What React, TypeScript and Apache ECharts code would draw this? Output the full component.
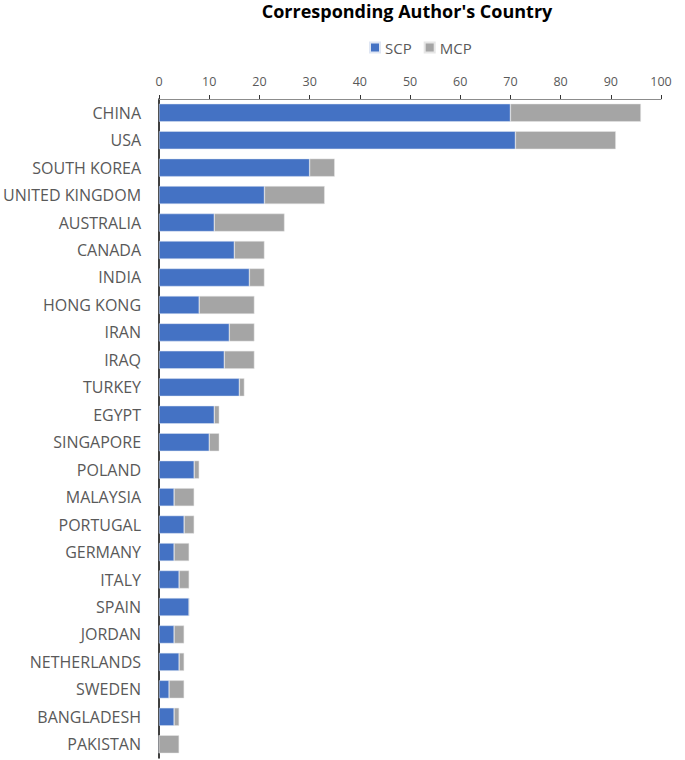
import React, { useEffect, useRef } from "react";
import * as echarts from "echarts";

const countries = [
  "CHINA", "USA", "SOUTH KOREA", "UNITED KINGDOM", "AUSTRALIA", "CANADA", "INDIA",
  "HONG KONG", "IRAN", "IRAQ", "TURKEY", "EGYPT", "SINGAPORE", "POLAND", "MALAYSIA",
  "PORTUGAL", "GERMANY", "ITALY", "SPAIN", "JORDAN", "NETHERLANDS", "SWEDEN",
  "BANGLADESH", "PAKISTAN",
];
const scp = [70, 71, 30, 21, 11, 15, 18, 8, 14, 13, 16, 11, 10, 7, 3, 5, 3, 4, 6, 3, 4, 2, 3, 0];
const mcp = [26, 20, 5, 12, 14, 6, 3, 11, 5, 6, 1, 1, 2, 1, 4, 2, 3, 2, 0, 2, 1, 3, 1, 4];
const xTicks = { min: 0, max: 100, interval: 10 };

const FONT = "'Open Sans', 'Liberation Sans', sans-serif";

export default function App() {
  const ref = useRef<HTMLDivElement>(null);
  useEffect(() => {
    if (!ref.current) return;
    const chart = echarts.init(ref.current, null, { renderer: "svg" });
    chart.setOption({
      animation: false,
      title: {
        text: "Corresponding Author's Country",
        left: 407,
        textAlign: "center",
        top: 1,
        padding: 0,
        textStyle: { fontFamily: FONT, fontSize: 18, fontWeight: "bold", color: "#000", lineHeight: 20 },
      },
      legend: {
        data: ["SCP", "MCP"],
        left: 364,
        top: 35,
        itemWidth: 10,
        itemHeight: 10,
        itemGap: 12,
        icon: "rect",
        textStyle: { fontFamily: FONT, fontSize: 15, color: "#595959" },
      },
      grid: { left: 158, right: 24, top: 99, bottom: 2, containLabel: false },
      xAxis: {
        type: "value",
        position: "top",
        min: xTicks.min,
        max: xTicks.max,
        interval: xTicks.interval,
        axisLine: { show: true, lineStyle: { color: "#8c8c8c", width: 1 } },
        axisTick: { show: true, inside: false, length: 4, lineStyle: { color: "#333" } },
        axisLabel: { fontFamily: FONT, fontSize: 12.5, color: "#595959", margin: 11 },
        splitLine: { show: false },
      },
      yAxis: {
        type: "category",
        data: countries,
        inverse: true,
        axisLine: { show: true, lineStyle: { color: "#000", width: 1.5 } },
        axisTick: { show: false },
        axisLabel: { fontFamily: FONT, fontSize: 16, color: "#595959", margin: 18 },
      },
      series: [
        {
          name: "SCP",
          type: "bar",
          stack: "total",
          data: scp,
          barWidth: 18,
          itemStyle: { color: "#4472C4", borderColor: "#dfe6f3", borderWidth: 0.5 },
        },
        {
          name: "MCP",
          type: "bar",
          stack: "total",
          data: mcp,
          barWidth: 18,
          itemStyle: { color: "#A5A5A5", borderColor: "#e6e6e6", borderWidth: 0.5 },
        },
      ],
    });
    return () => chart.dispose();
  }, []);
  return <div ref={ref} style={{ width: 685, height: 760, position: "absolute", left: 0, top: 0 }} />;
}
